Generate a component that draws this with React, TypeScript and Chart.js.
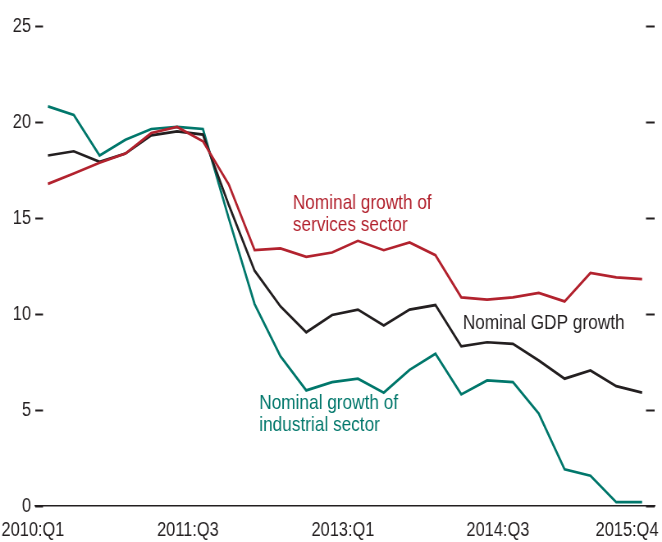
import React, { useEffect, useRef } from 'react';
import { Chart, registerables } from 'chart.js';

Chart.register(...registerables);

const quarters = [
  '2010:Q1', '2010:Q2', '2010:Q3', '2010:Q4',
  '2011:Q1', '2011:Q2', '2011:Q3', '2011:Q4',
  '2012:Q1', '2012:Q2', '2012:Q3', '2012:Q4',
  '2013:Q1', '2013:Q2', '2013:Q3', '2013:Q4',
  '2014:Q1', '2014:Q2', '2014:Q3', '2014:Q4',
  '2015:Q1', '2015:Q2', '2015:Q3', '2015:Q4',
];

const shownQuarterLabels = ['2010:Q1', '2011:Q3', '2013:Q1', '2014:Q3', '2015:Q4'];

const servicesGrowth = [
  16.8, 17.34, 17.9, 18.38, 19.45, 19.77, 19.02, 16.77,
  13.34, 13.43, 12.99, 13.22, 13.83, 13.34, 13.74, 13.08,
  10.88, 10.76, 10.88, 11.11, 10.67, 12.15, 11.92, 11.83,
];

const gdpGrowth = [
  18.28, 18.5, 17.95, 18.38, 19.33, 19.54, 19.37, 15.7,
  12.27, 10.41, 9.06, 9.96, 10.24, 9.41, 10.24, 10.48,
  8.33, 8.54, 8.46, 7.59, 6.64, 7.07, 6.25, 5.91,
];

const industrialGrowth = [
  20.84, 20.4, 18.28, 19.1, 19.66, 19.77, 19.66, 15.0,
  10.53, 7.81, 6.03, 6.46, 6.64, 5.91, 7.1, 7.94,
  5.82, 6.55, 6.46, 4.82, 1.91, 1.58, 0.2, 0.2,
];

const yMin = 0;
const yMax = 25;
const yStep = 5;

const RED = '#B2222E';
const GREEN = '#00776B';
const BLACK = '#231F20';
const FONT = "'Liberation Sans', Arial, sans-serif";

// The chart is drawn on a wider canvas and squeezed horizontally,
// which gives the condensed (Arial Narrow-like) lettering of the original.
const VIEW_W = 662;
const VIEW_H = 542;
const CANVAS_W = 807;
const SQUEEZE = VIEW_W / CANVAS_W;
const sx = (px: number) => px / SQUEEZE; // screen px -> canvas px (horizontal)

const annotations = [
  { lines: ['Nominal growth of', 'services sector'], x: 9.48, y: 15.5, color: RED },
  { lines: ['Nominal GDP growth'], x: 16.06, y: 9.25, color: BLACK },
  { lines: ['Nominal growth of', 'industrial sector'], x: 8.18, y: 5.08, color: GREEN },
];

const annotationPlugin = {
  id: 'inlineLabels',
  afterDatasetsDraw(chart: any) {
    const { ctx, scales } = chart;
    ctx.save();
    ctx.font = `21px ${FONT}`;
    ctx.textAlign = 'left';
    ctx.textBaseline = 'alphabetic';
    for (const a of annotations) {
      const px = scales.x.getPixelForValue(a.x);
      const py = scales.y.getPixelForValue(a.y);
      ctx.fillStyle = a.color;
      a.lines.forEach((line, i) => ctx.fillText(line, px, py + i * 22));
    }
    ctx.restore();
  },
};

export default function App() {
  const canvasRef = useRef<HTMLCanvasElement | null>(null);

  useEffect(() => {
    if (!canvasRef.current) return;
    const chart = new Chart(canvasRef.current, {
      type: 'line',
      data: {
        labels: quarters,
        datasets: [
          { label: 'Nominal growth of services sector', data: servicesGrowth, borderColor: RED, yAxisID: 'y' },
          { label: 'Nominal GDP growth', data: gdpGrowth, borderColor: BLACK, yAxisID: 'y' },
          { label: 'Nominal growth of industrial sector', data: industrialGrowth, borderColor: GREEN, yAxisID: 'y' },
        ].map((d) => ({ ...d, borderWidth: 2.7, pointRadius: 0, fill: false, tension: 0 })),
      },
      options: {
        responsive: false,
        animation: false,
        layout: { padding: { left: 0, right: sx(7), top: 26, bottom: 0 } },
        plugins: { legend: { display: false }, tooltip: { enabled: false } },
        scales: {
          x: {
            type: 'category',
            offset: true,
            grid: { display: false, drawTicks: false },
            border: { display: true, color: BLACK, width: 1.5 },
            ticks: {
              autoSkip: false,
              maxRotation: 0,
              minRotation: 0,
              padding: 12,
              labelOffset: sx(-15),
              color: BLACK,
              font: { family: FONT, size: 20 },
              callback: (_v: any, i: number) => (shownQuarterLabels.includes(quarters[i]) ? quarters[i] : ''),
            },
            afterFit: (s: any) => {
              s.paddingLeft = 0;
              s.paddingRight = 0;
              s.height = 36;
            },
          },
          y: {
            type: 'linear',
            position: 'left',
            min: yMin,
            max: yMax,
            ticks: { stepSize: yStep, padding: sx(12), color: BLACK, font: { family: FONT, size: 20 } },
            grid: { display: true, drawOnChartArea: false, drawTicks: true, tickLength: sx(-8), tickWidth: 2, tickColor: BLACK },
            border: { display: false },
            afterFit: (s: any) => {
              s.width = sx(35);
            },
          },
          y2: {
            type: 'linear',
            position: 'right',
            min: yMin,
            max: yMax,
            ticks: { stepSize: yStep, display: false },
            grid: { display: true, drawOnChartArea: false, drawTicks: true, tickLength: sx(-9), tickWidth: 2, tickColor: BLACK },
            border: { display: false },
            afterFit: (s: any) => {
              s.width = 0;
            },
          },
        },
      },
      plugins: [annotationPlugin],
    } as any);
    return () => chart.destroy();
  }, []);

  return (
    <div style={{ position: 'absolute', left: 0, top: 0, width: VIEW_W, height: VIEW_H, overflow: 'hidden', background: '#fff' }}>
      <div style={{ width: CANVAS_W, height: VIEW_H, transform: `scaleX(${SQUEEZE})`, transformOrigin: '0 0' }}>
        <canvas ref={canvasRef} width={CANVAS_W} height={VIEW_H} />
      </div>
    </div>
  );
}
